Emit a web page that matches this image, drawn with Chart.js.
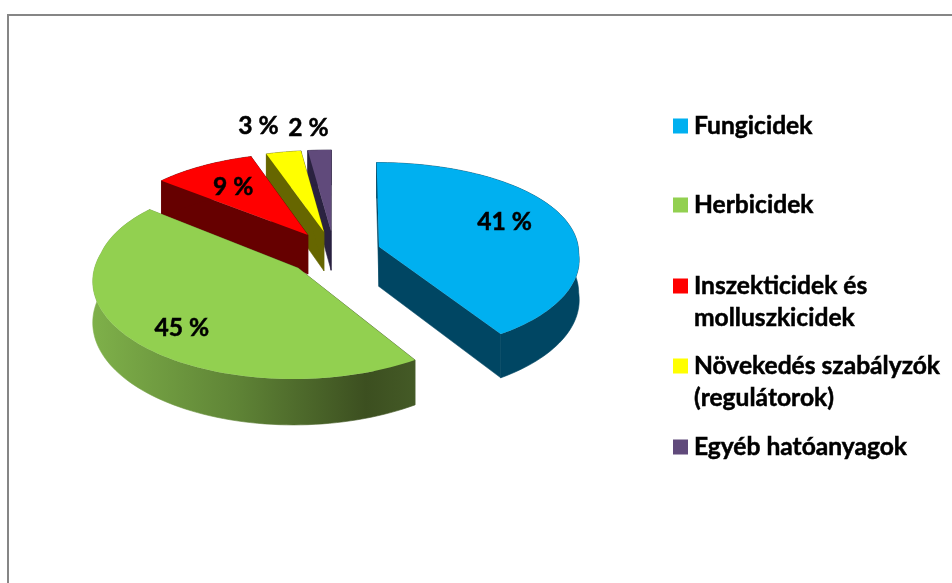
<!DOCTYPE html>
<html lang="hu">
<head>
<meta charset="utf-8">
<title>Hatóanyagok</title>
<script src="https://cdn.jsdelivr.net/npm/chart.js@4/dist/chart.umd.min.js"></script>
<style>
  html, body { margin: 0; padding: 0; background: #fff; }
  #wrap { position: relative; width: 952px; height: 583px; overflow: hidden; }
  #frame { position: absolute; left: 7px; top: 14px; width: 945px; height: 569px;
           border-left: 2px solid #868686; border-top: 2px solid #868686; box-sizing: border-box; }
  canvas { position: absolute; left: 0; top: 0; }
</style>
</head>
<body>
<div id="wrap">
  <div id="frame"></div>
  <canvas id="pie" width="952" height="583"></canvas>
</div>
<script>
const categories = ['Fungicidek', 'Herbicidek', 'Inszekticidek és molluszkicidek', 'Növekedés szabályzók (regulátorok)', 'Egyéb hatóanyagok'];
const legendLines = [['Fungicidek'], ['Herbicidek'], ['Inszekticidek és', 'molluszkicidek'], ['Növekedés szabályzók', '(regulátorok)'], ['Egyéb hatóanyagok']];
const values = [41, 45, 9, 3, 2];
const valueLabels = ['41 %', '45 %', '9 %', '3 %', '2 %'];
const topColors = ['#00B0F0', '#92D050', '#FF0000', '#FFFF00', '#604A7B'];
const sideColors = ['#004663', null, '#660000', '#666600', '#2A2240'];

// how the flat pie is tilted
const SQUASH = 0.475;
const PERSPECTIVE = 0.000558;
const DEPTH = 40;
const FONT = 'bold 24.6px Lato, "Open Sans", sans-serif';

// radial position of each value label, with a small nudge in px
const labelFrac = [0.65, 0.72, 0.69, 1.0, 1.0];
const labelNudge = [[3, -8], [2, 11], [-1, 1], [-25, -26], [-11, -22]];

function projector(arc) {
    const p = arc.getProps(['x', 'y', 'startAngle', 'endAngle', 'outerRadius']);
    const mid = (p.startAngle + p.endAngle) / 2;
    const off = arc.options.offset;
    const ox = off * Math.cos(mid);
    const oy = off * Math.sin(mid);
    const point = function(r, angle, z) {
        const u = ox + r * Math.cos(angle);
        const v = oy + r * Math.sin(angle);
        const s = 1 / (1 - v * PERSPECTIVE);
        // the far side narrows less than it flattens
        const sx = v > 0 ? s : 1 / (1 - v * PERSPECTIVE * 0.5);
        return [p.x + u * sx, p.y + (v * SQUASH + z) * s];
    };
    return { p, mid, oy, point };
}

function fillPoints(ctx, pts, fill, seam) {
    ctx.beginPath();
    pts.forEach((q, i) => i ? ctx.lineTo(q[0], q[1]) : ctx.moveTo(q[0], q[1]));
    ctx.closePath();
    ctx.fillStyle = fill;
    ctx.fill();
    if (seam) {
        ctx.strokeStyle = fill;
        ctx.lineWidth = 0.6;
        ctx.stroke();
    }
}

function rimPoints(pr, z) {
    const pts = [];
    const steps = 90;
    for (let i = 0; i <= steps; i++) {
        const a = pr.p.startAngle + (pr.p.endAngle - pr.p.startAngle) * i / steps;
        pts.push(pr.point(pr.p.outerRadius, a, z));
    }
    return pts;
}

function boldText(ctx, text, x, y) {
    ctx.fillText(text, x, y);
    ctx.strokeText(text, x, y);
}

const tiltedPie = {
    id: 'tiltedPie',
    beforeDatasetDraw(chart, args) {
        const ctx = chart.ctx;
        const arcs = chart.getDatasetMeta(args.index).data;
        const order = arcs.map((arc, i) => i)
            .sort((a, b) => projector(arcs[a]).oy - projector(arcs[b]).oy);

        order.forEach(i => {
            const pr = projector(arcs[i]);
            let side = sideColors[i];
            if (!side) {
                // herbicidek: the outer wall fades from light to dark
                side = ctx.createLinearGradient(90, 0, 415, 0);
                side.addColorStop(0, '#7FB14A');
                side.addColorStop(0.45, '#5F8436');
                side.addColorStop(0.85, '#3C4F20');
                side.addColorStop(1, '#445A26');
            }
            const top = rimPoints(pr, 0);
            const bottom = rimPoints(pr, DEPTH);
            const apexTop = pr.point(0, 0, 0);
            const apexBottom = pr.point(0, 0, DEPTH);

            fillPoints(ctx, [apexTop, top[0], bottom[0], apexBottom], side, true);
            fillPoints(ctx, [apexTop, top[top.length - 1], bottom[bottom.length - 1], apexBottom], side, true);
            fillPoints(ctx, top.concat(bottom.slice().reverse()), side, true);
            fillPoints(ctx, [apexTop].concat(top), topColors[i], false);
        });

        ctx.fillStyle = '#000';
        ctx.strokeStyle = '#000';
        ctx.lineWidth = 0.5;
        ctx.font = FONT;
        ctx.textAlign = 'center';
        ctx.textBaseline = 'middle';
        arcs.forEach((arc, i) => {
            const pr = projector(arc);
            const q = pr.point(pr.p.outerRadius * labelFrac[i], pr.mid, 0);
            boldText(ctx, valueLabels[i], q[0] + labelNudge[i][0], q[1] + labelNudge[i][1]);
        });
        return false;
    },
    afterDraw(chart) {
        // legend rows are evenly spaced whatever the number of lines
        const ctx = chart.ctx;
        const rowY = [126, 205, 286, 366, 447];
        ctx.font = FONT;
        ctx.textAlign = 'left';
        ctx.textBaseline = 'middle';
        ctx.strokeStyle = '#000';
        ctx.lineWidth = 0.5;
        legendLines.forEach((lines, i) => {
            ctx.fillStyle = topColors[i];
            ctx.fillRect(673, rowY[i] - 7.5, 15, 15);
            ctx.fillStyle = '#000';
            lines.forEach((line, n) => boldText(ctx, line, 694, rowY[i] + n * 32));
        });
    }
};

new Chart(document.getElementById('pie').getContext('2d'), {
    type: 'pie',
    data: {
        labels: categories,
        datasets: [{
            data: values,
            backgroundColor: topColors,
            borderWidth: 0,
            offset: 47,
            radius: 200
        }]
    },
    options: {
        responsive: false,
        animation: false,
        layout: { padding: { left: 0, top: 0, right: 284, bottom: 77 } },
        plugins: { legend: { display: false }, tooltip: { enabled: false } }
    },
    plugins: [tiltedPie]
});
</script>
</body>
</html>
